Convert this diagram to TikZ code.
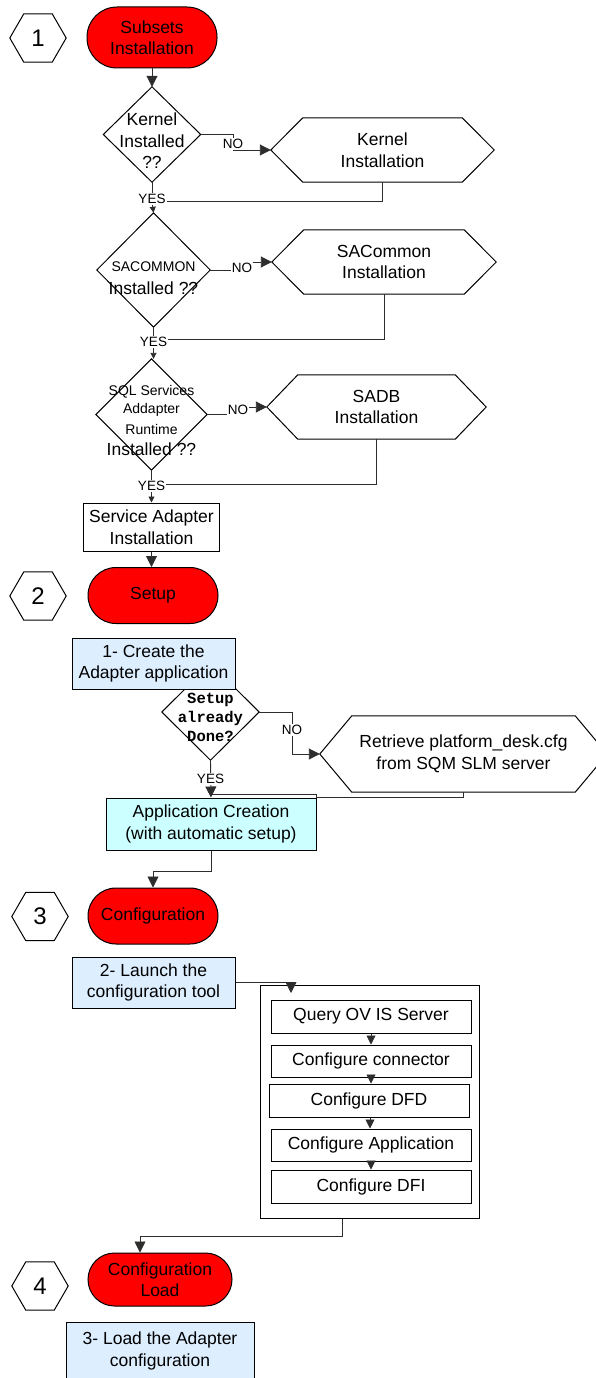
\documentclass[tikz,border=0pt]{standalone}
\usepackage{fontspec}
\setmainfont{Liberation Sans}
\newfontfamily\monob{Liberation Mono}
\usetikzlibrary{arrows.meta}
\definecolor{termred}{RGB}{255,0,0}
\definecolor{lblue}{RGB}{221,238,255}
\definecolor{lcyan}{RGB}{204,255,255}
\definecolor{linegray}{RGB}{45,45,45}
\tikzset{
 lbl/.style={font=\fontsize{17.5}{21.5}\selectfont, align=center, inner sep=0pt},
 shp/.style={draw=black, line width=1pt},
 term/.style={shp, fill=termred, lbl},
 box/.style={shp, fill=white, lbl},
 anchorbox/.style={inner sep=0pt, draw=none},
 smalltxt/.style={font=\fontsize{14}{16}\selectfont, inner sep=0pt},
 conn/.style={draw=linegray, line width=0.9pt},
 arB/.style={conn, -{Triangle[length=11pt,width=11pt]}},
 arM/.style={conn, -{Triangle[length=9pt,width=9pt]}},
 arS/.style={conn, -{Triangle[length=6pt,width=6pt]}},
 yn/.style={fill=white, inner sep=1pt, font=\fontsize{13.5}{14}\selectfont},
}
\newcommand{\myhex}[6]{%
 \node[anchorbox, lbl, minimum width=#3, minimum height=#4] (#1) at #2 {#6};
 \draw[shp] (#1.west) -- ([xshift=#5]#1.north west) -- ([xshift=-#5]#1.north east) -- (#1.east) -- ([xshift=-#5]#1.south east) -- ([xshift=#5]#1.south west) -- cycle;}
\newcommand{\mydiam}[4]{%
 \node[anchorbox, minimum width=#3, minimum height=#4] (#1) at #2 {};
 \draw[shp] (#1.north) -- (#1.east) -- (#1.south) -- (#1.west) -- cycle;}
\begin{document}
\begin{tikzpicture}[x=1pt,y=-1pt]
\useasboundingbox (0,0) rectangle (595,1378);

% ---------- section 1 ----------
\myhex{n1}{(38,38)}{56pt}{48pt}{14pt}{\fontsize{24}{24}\selectfont 1}
\node[term, minimum width=130pt, minimum height=61pt, rounded corners=30pt] (t1) at (152,37.5) {Subsets\\Installation};

\mydiam{d1}{(152,134.5)}{97pt}{95pt}
\node[lbl] (d1t) at (152,141) {Kernel\\Installed\\??};
\myhex{h1}{(382.5,150)}{223pt}{64pt}{32pt}{Kernel\\Installation}

\mydiam{d2}{(153.5,270)}{113pt}{114pt}
\node[smalltxt] (d2a) at (153.5,267) {SACOMMON};
\node[lbl] (d2b) at (153.5,288) {Installed ??};
\myhex{h2}{(384,262)}{224pt}{64pt}{32pt}{SACommon\\Installation}

\mydiam{d3}{(151.5,414.5)}{111pt}{111pt}
\node[smalltxt] (d3a) at (151.5,392) {SQL Services};
\node[smalltxt] (d3b) at (151.5,410) {Addapter};
\node[smalltxt] (d3c) at (151.5,429) {Runtime};
\node[lbl] (d3d) at (151.5,449) {Installed ??};
\myhex{h3}{(376.5,407)}{219pt}{64pt}{31pt}{SADB\\Installation}

\node[box, minimum width=136pt, minimum height=48pt] (b1) at (151.5,527) {Service Adapter\\Installation};

\coordinate (j1) at (152,201);
\coordinate (j2) at (153.5,339);
\coordinate (j3) at (151.5,484);

\draw[arB] (t1.south) -- (d1.north);
\draw[arB] (d1.east) -- (233,134.5) -- (233,150) -- (h1.west);
\draw[conn] (d1.south) -- (j1);
\draw[conn] (h1.south) |- (j1);
\draw[arS] (j1) -- (d2.north);
\node[yn] (no1) at (233,144) {NO};
\node[yn] (yes1) at (152,199) {YES};

\draw[arB] (d2.east) -- (242,270) -- (242,262) -- (h2.west);
\draw[conn] (d2.south) -- (j2);
\draw[conn] (h2.south) |- (j2);
\draw[arS] (j2) -- (j2 |- d3.north);
\node[yn] (no2) at (242,268) {NO};
\node[yn] (yes2) at (153.5,342) {YES};

\draw[arB] (d3.east) -- (238,414.5) -- (238,407) -- (h3.west);
\draw[conn] (d3.south) -- (j3);
\draw[conn] (h3.south) |- (j3);
\draw[arS] (j3) -- (b1.north);
\node[yn] (no3) at (238,410) {NO};
\node[yn] (yes3) at (151.5,486) {YES};

% ---------- section 2 ----------
\myhex{n2}{(38,596)}{56pt}{48pt}{14pt}{\fontsize{24}{24}\selectfont 2}
\node[term, minimum width=130pt, minimum height=56pt, rounded corners=28pt] (t2) at (153,595.5) {Setup};
\draw[arB] (b1.south) -- (b1.south |- t2.north);

\mydiam{d4}{(210.5,712)}{97pt}{96pt}
\node[box, fill=lblue, minimum width=163pt, minimum height=51pt] (c1) at (153.5,663.5) {1- Create the\\Adapter application};
\node[font=\monob\bfseries\fontsize{15.5}{19}\selectfont, align=center, inner sep=0pt] (d4t) at (210.5,717) {Setup\\already\\Done?};

\myhex{r1}{(463.5,754)}{287pt}{76pt}{32pt}{Retrieve platform\_desk.cfg\\from SQM SLM server}

\node[box, fill=lcyan, minimum width=210pt, minimum height=52pt] (c2) at (211,824) {Application Creation\\(with automatic setup)};

\coordinate (j4) at (210.5,794);
\draw[arB] (d4.east) -- (292,712) -- (292,754) -- (r1.west);
\draw[arB] (d4.south) -- (c2.north);
\draw[conn] (r1.south) |- (316,797) |- (j4);
\node[yn] (no4) at (292,730) {NO};
\node[yn] (yes4) at (210.5,779) {YES};

% ---------- section 3 ----------
\myhex{n3}{(40,916.5)}{56pt}{48pt}{14pt}{\fontsize{24}{24}\selectfont 3}
\node[term, minimum width=130pt, minimum height=56pt, rounded corners=28pt] (t3) at (153,916) {Configuration};
\draw[arB] (c2.south) -- (211,871) -| (t3.north);

\node[box, fill=lblue, minimum width=163pt, minimum height=51pt] (c3) at (153.5,982.5) {2- Launch the\\configuration tool};

\node[shp, minimum width=219pt, minimum height=233pt, inner sep=0pt] (k) at (369.5,1101.5) {};
\node[box, minimum width=200pt, minimum height=33pt] (q1) at (371,1016.5) {Query OV IS Server};
\node[box, minimum width=200pt, minimum height=32pt] (q2) at (371,1061) {Configure connector};
\node[box, minimum width=200pt, minimum height=33pt] (q3) at (369,1100.5) {Configure DFD};
\node[box, minimum width=200pt, minimum height=32pt] (q4) at (371,1145) {Configure Application};
\node[box, minimum width=200pt, minimum height=33pt] (q5) at (371,1186.5) {Configure DFI};

\coordinate (a3) at (291,993);
\draw[arB] (c3.east) -- (291,982.5) -- (a3);
\draw[arM] (q1.south) -- (q2.north);
\draw[arM] (q2.south) -- (q2.south |- q3.north);
\draw[arM] ([xshift=1pt]q3.south) -- ([xshift=1pt]q3.south |- q4.north);
\draw[arM] (q4.south) -- (q5.north);

% ---------- section 4 ----------
\myhex{n4}{(40,1286)}{56pt}{48pt}{14pt}{\fontsize{24}{24}\selectfont 4}
\node[term, minimum width=144pt, minimum height=53pt, rounded corners=26.5pt] (t4) at (160,1279.5) {Configuration\\Load};
\draw[arB] ([xshift=-27.5pt]k.south) |- ([xshift=-20pt,yshift=16pt]t4.north) -- ([xshift=-20pt]t4.north);

\node[box, fill=lblue, minimum width=188pt, minimum height=58pt] (c4) at (160,1351) {3- Load the Adapter\\configuration};
\end{tikzpicture}
\end{document}
